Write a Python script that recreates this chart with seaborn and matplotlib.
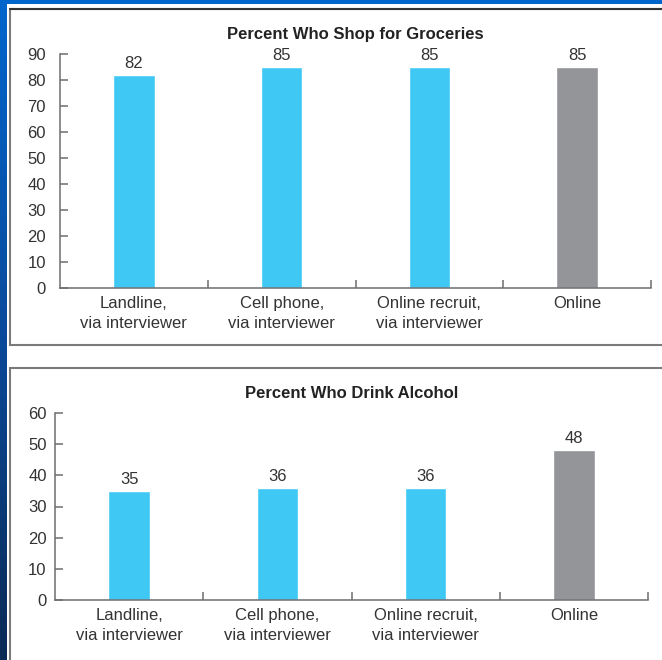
import numpy as np
import pandas as pd
import matplotlib
matplotlib.use("Agg")
import matplotlib.pyplot as plt
from matplotlib.patches import Rectangle
from matplotlib.ticker import FixedLocator
from matplotlib.colors import LinearSegmentedColormap
import seaborn as sns

categories = ["Landline,\nvia interviewer", "Cell phone,\nvia interviewer",
              "Online recruit,\nvia interviewer", "Online"]
groceries = [82, 85, 85, 85]
alcohol = [35, 36, 36, 48]
title_top = "Percent Who Shop for Groceries"
title_bottom = "Percent Who Drink Alcohol"
yticks_top = list(range(0, 91, 10))
yticks_bottom = list(range(0, 61, 10))

BLUE = "#3FC8F3"
GREY = "#939598"
TXT = "#333333"
SPINE = "#6D6E71"

sns.set_theme(style="white")
plt.rcParams['font.family'] = ['Liberation Sans', 'DejaVu Sans']

W, H = 662, 660
fig = plt.figure(figsize=(W / 100, H / 100), dpi=100)
fig.patch.set_facecolor("white")

def fx(px):
    return px / W

def fy(py):
    return (H - py) / H

# background frame: top strip and left gradient strip
fig.patches.append(Rectangle((0, fy(4)), 1, 4 / H, transform=fig.transFigure,
                             facecolor="#0066CC", edgecolor="none", zorder=0))
gax = fig.add_axes([0, 0, fx(6), 1])
grad = np.linspace(0, 1, 256).reshape(-1, 1)
cmap = LinearSegmentedColormap.from_list("bg", ["#0A2A55", "#0B4A9C", "#0066CC"])
gax.imshow(grad, aspect="auto", cmap=cmap, origin="lower", extent=[0, 1, 0, 1])
gax.set_axis_off()

# panels
fig.patches.append(Rectangle((fx(10), fy(345)), 1.0, fy(9) - fy(345),
                             transform=fig.transFigure, facecolor="white",
                             edgecolor="#7A7A7A", linewidth=1.5, zorder=1))
fig.add_artist(plt.Line2D([fx(10), 1.0], [fy(9), fy(9)], transform=fig.transFigure,
                          color="#333333", linewidth=1.5, zorder=2))
fig.patches.append(Rectangle((fx(10), -0.05), 1.0, fy(368) + 0.05,
                             transform=fig.transFigure, facecolor="white",
                             edgecolor="#7A7A7A", linewidth=1.5, zorder=1))

def draw(ax, values, yticks, title, ylabel_pad):
    df = pd.DataFrame({"cat": categories, "val": values})
    palette = [BLUE, BLUE, BLUE, GREY]
    sns.barplot(data=df, x="cat", y="val", hue="cat", palette=palette,
                width=0.28, legend=False, ax=ax, saturation=1)
    ax.set_xlim(-0.5, 3.5)
    ax.set_ylim(yticks[0], yticks[-1])
    ax.set_yticks(yticks)
    ax.set_xlabel("")
    ax.set_ylabel("")
    ax.set_title(title, fontsize=12, fontweight="bold", color="#222222", pad=11)
    for s in ["top", "right"]:
        ax.spines[s].set_visible(False)
    for s in ["left", "bottom"]:
        ax.spines[s].set_color(SPINE)
        ax.spines[s].set_linewidth(1.1)
    ax.tick_params(axis="y", direction="in", length=6, width=1.1, color=SPINE,
                   labelsize=12, labelcolor=TXT, pad=ylabel_pad, left=True)
    ax.tick_params(axis="x", which="major", length=0, labelsize=12,
                   labelcolor=TXT, pad=6)
    ax.xaxis.set_minor_locator(FixedLocator([0.5, 1.5, 2.5, 3.5]))
    ax.tick_params(axis="x", which="minor", direction="in", length=6, width=1.1,
                   color=SPINE, bottom=True)
    for lab in ax.get_xticklabels():
        lab.set_linespacing(1.4)
    for c in ax.containers:
        ax.bar_label(c, fmt="%d", padding=3, fontsize=12, color=TXT)
    ax.set_facecolor("none")

ax1 = fig.add_axes([fx(60), fy(288), fx(651) - fx(60), fy(54) - fy(288)])
draw(ax1, groceries, yticks_top, title_top, 10)
ax2 = fig.add_axes([fx(55), fy(600), fx(648) - fx(55), fy(413) - fy(600)])
draw(ax2, alcohol, yticks_bottom, title_bottom, 6)
for ax in (ax1, ax2):
    ax.set_zorder(5)

fig.savefig("out.png", dpi=100)
